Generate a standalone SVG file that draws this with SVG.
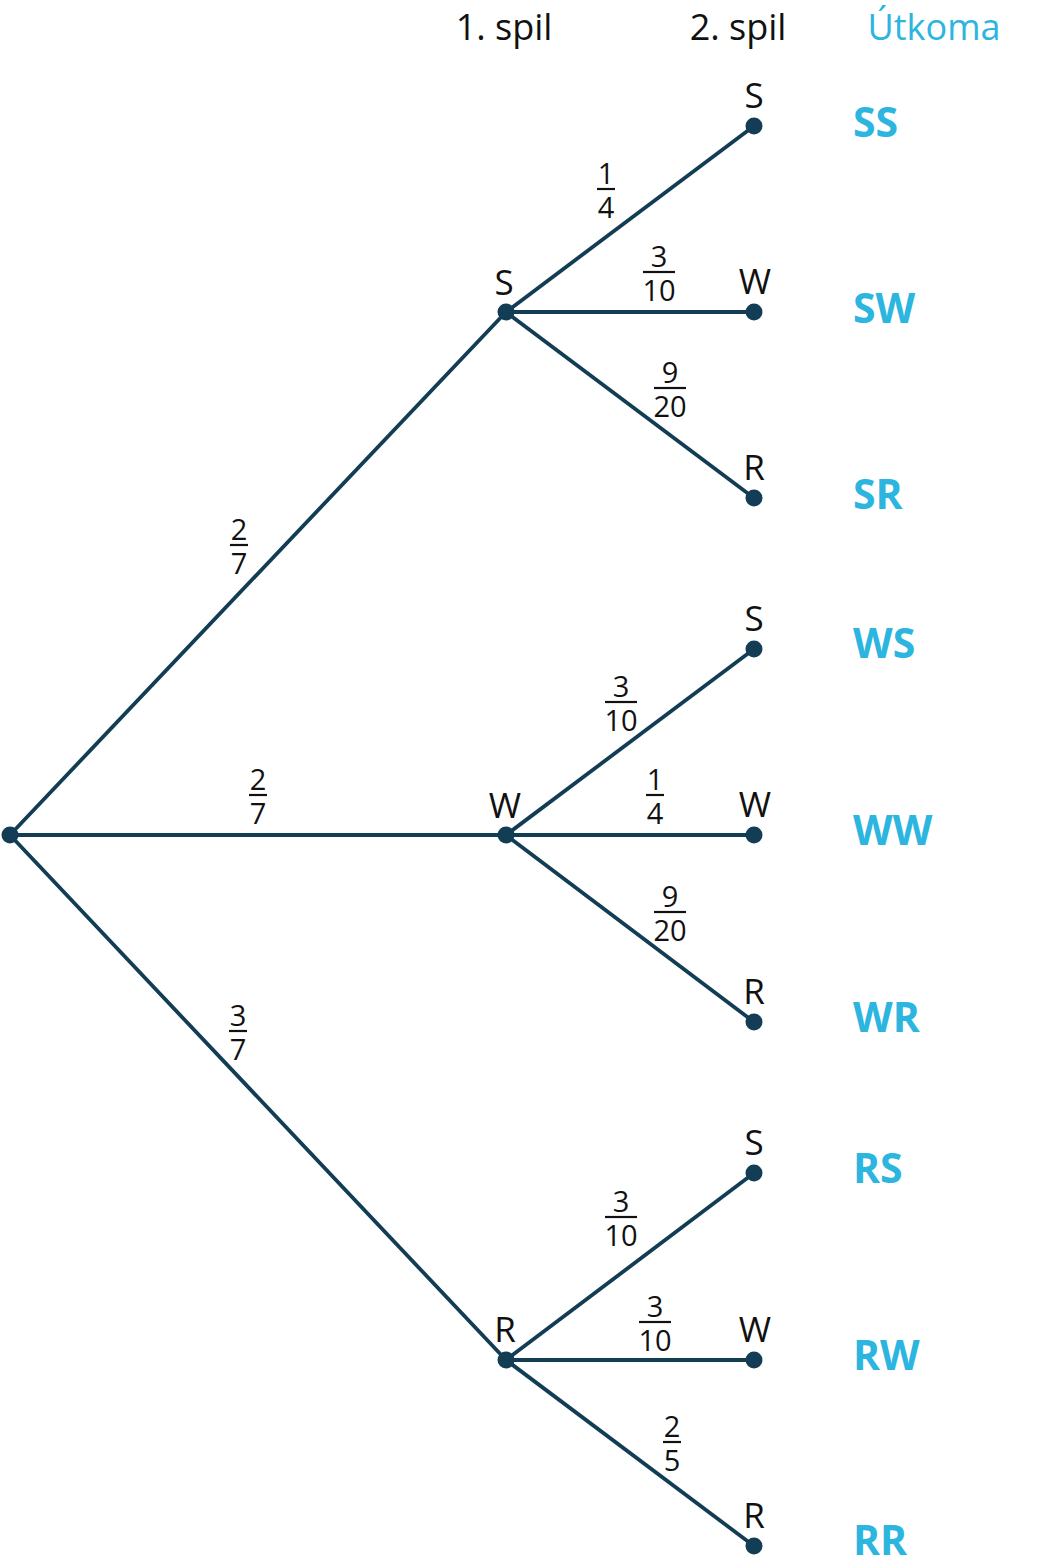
<svg xmlns="http://www.w3.org/2000/svg" width="1039" height="1564" viewBox="0 0 1039 1564">
<style>
.edge{stroke:#123d54;stroke-width:3.8;fill:none;stroke-linecap:round}
.dot{fill:#123d54}
.lbl{font-family:"Open Sans","Noto Sans","Liberation Sans",sans-serif;font-size:35px;font-weight:500;fill:#111;text-anchor:middle}
.hdr{font-family:"Open Sans","Noto Sans","Liberation Sans",sans-serif;font-size:36px;font-weight:500;fill:#111;text-anchor:middle}
.hdrc{fill:#2bb5df}
.out{font-family:"Open Sans","Noto Sans","Liberation Sans",sans-serif;font-size:41px;font-weight:700;fill:#2bb5df}
.fr{font-family:"Open Sans","Noto Sans","Liberation Sans",sans-serif;font-size:29px;font-weight:500;fill:#111;text-anchor:middle}
.bar{stroke:#111;stroke-width:2.2}
</style>
<rect width="1039" height="1564" fill="#fff"/>
<g id="headers">
<text class="hdr" x="504" y="40">1. spil</text>
<text class="hdr" x="738" y="40">2. spil</text>
<text class="hdr hdrc" x="934" y="40">Útkoma</text>
</g>
<g id="connectors">
<line class="edge" x1="10" y1="835" x2="506" y2="312"/>
<line class="edge" x1="10" y1="835" x2="506" y2="835"/>
<line class="edge" x1="10" y1="835" x2="506" y2="1360"/>
<line class="edge" x1="506" y1="312" x2="754" y2="126"/>
<line class="edge" x1="506" y1="312" x2="754" y2="312"/>
<line class="edge" x1="506" y1="312" x2="754" y2="498"/>
<line class="edge" x1="506" y1="835" x2="754" y2="649"/>
<line class="edge" x1="506" y1="835" x2="754" y2="835"/>
<line class="edge" x1="506" y1="835" x2="754" y2="1022"/>
<line class="edge" x1="506" y1="1360" x2="754" y2="1173"/>
<line class="edge" x1="506" y1="1360" x2="754" y2="1360"/>
<line class="edge" x1="506" y1="1360" x2="754" y2="1546"/>
</g>
<g id="edge-labels">
<g id="f-root-S"><text class="fr" x="239" y="540">2</text><line class="bar" x1="230" y1="545" x2="248" y2="545"/><text class="fr" x="239" y="574">7</text></g>
<g id="f-root-W"><text class="fr" x="258" y="790">2</text><line class="bar" x1="249" y1="795" x2="267" y2="795"/><text class="fr" x="258" y="824">7</text></g>
<g id="f-root-R"><text class="fr" x="238" y="1026">3</text><line class="bar" x1="229" y1="1031" x2="247" y2="1031"/><text class="fr" x="238" y="1060">7</text></g>
<g id="f-SS"><text class="fr" x="606" y="184">1</text><line class="bar" x1="597" y1="189" x2="615" y2="189"/><text class="fr" x="606" y="218">4</text></g>
<g id="f-SW"><text class="fr" x="659" y="267">3</text><line class="bar" x1="643" y1="272" x2="675" y2="272"/><text class="fr" x="659" y="301">10</text></g>
<g id="f-SR"><text class="fr" x="670" y="383">9</text><line class="bar" x1="654" y1="388" x2="686" y2="388"/><text class="fr" x="670" y="417">20</text></g>
<g id="f-WS"><text class="fr" x="621" y="697">3</text><line class="bar" x1="605" y1="702" x2="637" y2="702"/><text class="fr" x="621" y="731">10</text></g>
<g id="f-WW"><text class="fr" x="655" y="790">1</text><line class="bar" x1="646" y1="795" x2="664" y2="795"/><text class="fr" x="655" y="824">4</text></g>
<g id="f-WR"><text class="fr" x="670" y="907">9</text><line class="bar" x1="654" y1="912" x2="686" y2="912"/><text class="fr" x="670" y="941">20</text></g>
<g id="f-RS"><text class="fr" x="621" y="1212">3</text><line class="bar" x1="605" y1="1217" x2="637" y2="1217"/><text class="fr" x="621" y="1246">10</text></g>
<g id="f-RW"><text class="fr" x="655" y="1317">3</text><line class="bar" x1="639" y1="1322" x2="671" y2="1322"/><text class="fr" x="655" y="1351">10</text></g>
<g id="f-RR"><text class="fr" x="672" y="1437">2</text><line class="bar" x1="663" y1="1442" x2="681" y2="1442"/><text class="fr" x="672" y="1471">5</text></g>
</g>
<g id="root"><circle class="dot" cx="10" cy="835" r="8.5"/></g>
<g id="node-S"><circle class="dot" cx="506" cy="312" r="8.5"/><text class="lbl" x="504" y="295">S</text></g>
<g id="node-W"><circle class="dot" cx="506" cy="835" r="8.5"/><text class="lbl" x="505" y="818">W</text></g>
<g id="node-R"><circle class="dot" cx="506" cy="1360" r="8.5"/><text class="lbl" x="505" y="1342">R</text></g>
<g id="leaf-SS"><circle class="dot" cx="754" cy="126" r="8.5"/><text class="lbl" x="754" y="108">S</text><text class="out" x="853" y="137">SS</text></g>
<g id="leaf-SW"><circle class="dot" cx="754" cy="312" r="8.5"/><text class="lbl" x="755" y="294">W</text><text class="out" x="853" y="323">SW</text></g>
<g id="leaf-SR"><circle class="dot" cx="754" cy="498" r="8.5"/><text class="lbl" x="754" y="480">R</text><text class="out" x="853" y="509">SR</text></g>
<g id="leaf-WS"><circle class="dot" cx="754" cy="649" r="8.5"/><text class="lbl" x="754" y="631">S</text><text class="out" x="853" y="658">WS</text></g>
<g id="leaf-WW"><circle class="dot" cx="754" cy="835" r="8.5"/><text class="lbl" x="755" y="817">W</text><text class="out" x="853" y="845">WW</text></g>
<g id="leaf-WR"><circle class="dot" cx="754" cy="1022" r="8.5"/><text class="lbl" x="754" y="1004">R</text><text class="out" x="853" y="1032">WR</text></g>
<g id="leaf-RS"><circle class="dot" cx="754" cy="1173" r="8.5"/><text class="lbl" x="754" y="1155">S</text><text class="out" x="853" y="1183">RS</text></g>
<g id="leaf-RW"><circle class="dot" cx="754" cy="1360" r="8.5"/><text class="lbl" x="755" y="1342">W</text><text class="out" x="853" y="1370">RW</text></g>
<g id="leaf-RR"><circle class="dot" cx="754" cy="1546" r="8.5"/><text class="lbl" x="754" y="1528">R</text><text class="out" x="853" y="1555">RR</text></g>
</svg>
